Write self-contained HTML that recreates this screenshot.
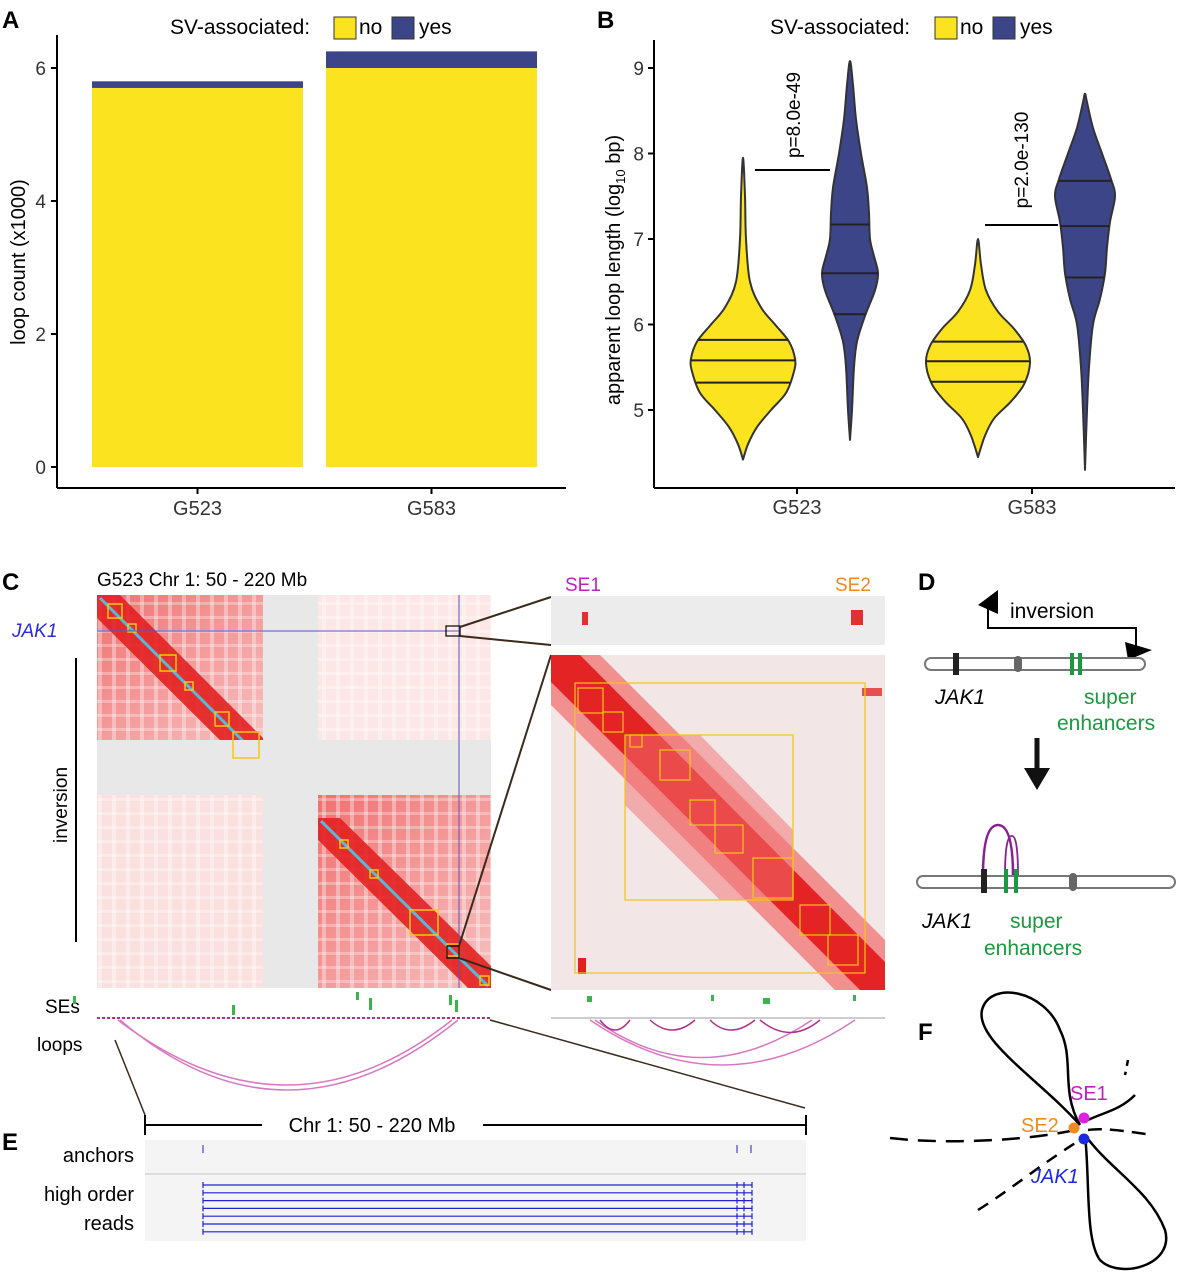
<!DOCTYPE html>
<html><head><meta charset="utf-8"><style>
body{margin:0;background:#fff;}
svg{display:block;font-family:"Liberation Sans",Arial,sans-serif;}
</style></head><body>
<svg id="fig" width="1179" height="1280" viewBox="0 0 1179 1280" xmlns="http://www.w3.org/2000/svg">
<defs>
<pattern id="stripes" width="14" height="14" patternUnits="userSpaceOnUse">
<rect width="14" height="14" fill="none"/><rect x="0" width="4" height="14" fill="#fff" opacity="0.35"/><rect y="0" width="14" height="3" fill="#fff" opacity="0.3"/>
</pattern>
<linearGradient id="tlq" x1="0" y1="0" x2="1" y2="1"><stop offset="0" stop-color="#f17070"/><stop offset="0.5" stop-color="#f49a9a"/><stop offset="1" stop-color="#f7c0c0"/></linearGradient>
</defs>
<!-- Panel labels -->
<g font-weight="bold" font-size="24" fill="#000">
<text x="2" y="28">A</text><text x="597" y="28">B</text><text x="2" y="590">C</text>
<text x="918" y="590">D</text><text x="918" y="1040">F</text><text x="2" y="1150">E</text>
</g>
<!-- Panel A -->
<g id="panelA">
<g font-size="21">
<text x="170" y="34">SV-associated:</text>
<rect x="334" y="17" width="22" height="22" fill="#FBE31F" stroke="#333"/>
<text x="359" y="34">no</text>
<rect x="392" y="17" width="22" height="22" fill="#3D4589" stroke="#333"/>
<text x="419" y="34">yes</text>
</g>
<line x1="57" y1="35" x2="57" y2="488" stroke="#000" stroke-width="2"/>
<line x1="57" y1="488" x2="566" y2="488" stroke="#000" stroke-width="2"/>
<g id="aticks" font-size="19" fill="#333"></g>
<g id="abars"></g>
<text transform="translate(25,262) rotate(-90)" text-anchor="middle" font-size="20">loop count (x1000)</text>
</g>
<!-- Panel B -->
<g id="panelB">
<g font-size="21">
<text x="770" y="34">SV-associated:</text>
<rect x="935" y="17" width="22" height="22" fill="#FBE31F" stroke="#333"/>
<text x="960" y="34">no</text>
<rect x="993" y="17" width="22" height="22" fill="#3D4589" stroke="#333"/>
<text x="1020" y="34">yes</text>
</g>
<line x1="654" y1="40" x2="654" y2="488" stroke="#000" stroke-width="2"/>
<line x1="654" y1="488" x2="1175" y2="488" stroke="#000" stroke-width="2"/>
<g id="bticks" font-size="19" fill="#333"></g>
<g id="violins"></g>
<text transform="translate(620,270) rotate(-90)" text-anchor="middle" font-size="20">apparent loop length (log<tspan font-size="13" dy="5">10</tspan><tspan dy="-5"> bp)</tspan></text>
<g>
<line x1="755" y1="170" x2="830" y2="170" stroke="#000" stroke-width="2"/>
<text transform="translate(800,115) rotate(-90)" text-anchor="middle" font-size="19">p=8.0e-49</text>
</g>
<g>
<line x1="985" y1="225" x2="1058" y2="225" stroke="#000" stroke-width="2"/>
<text transform="translate(1028,160) rotate(-90)" text-anchor="middle" font-size="19">p=2.0e-130</text>
</g>
</g>
<!-- Panel C -->
<g id="panelC">
<text x="97" y="586" font-size="19">G523 Chr 1: 50 - 220 Mb</text>
<text x="12" y="637" font-size="19" font-style="italic" fill="#2a2ae0">JAK1</text>
<text transform="translate(67,805) rotate(-90)" text-anchor="middle" font-size="19">inversion</text>
<line x1="76" y1="658" x2="76" y2="942" stroke="#000" stroke-width="2"/>
<g>
<rect x="97" y="595" width="394" height="393" fill="#fcecec"/>
<rect x="97" y="595" width="166" height="145" fill="url(#tlq)"/>
<rect x="97" y="595" width="166" height="145" fill="url(#stripes)"/>
<rect x="318" y="795" width="173" height="193" fill="url(#tlq)"/>
<rect x="318" y="795" width="173" height="193" fill="url(#stripes)"/>
<rect x="97" y="795" width="166" height="193" fill="#fbe0e0"/>
<rect x="97" y="795" width="166" height="193" fill="url(#stripes)"/>
<rect x="318" y="595" width="173" height="145" fill="#fde6e6"/>
<rect x="318" y="595" width="173" height="145" fill="url(#stripes)"/>
<polygon points="97,595 120,595 263,738 263,760 240,760 97,618" fill="#e32020" opacity="0.9"/>
<polygon points="318,818 340,818 491,966 491,988 468,988 318,840" fill="#e32020" opacity="0.9"/>
<line x1="100" y1="598" x2="260" y2="758" stroke="#58b8d8" stroke-width="3"/>
<line x1="321" y1="821" x2="488" y2="986" stroke="#58b8d8" stroke-width="3"/>
<rect x="263" y="595" width="55" height="393" fill="#e8e8e8"/>
<rect x="97" y="740" width="394" height="55" fill="#e8e8e8"/>
<g fill="none" stroke="#f5c518" stroke-width="1.5">
<rect x="108" y="604" width="14" height="14"/><rect x="128" y="624" width="8" height="8"/><rect x="160" y="655" width="16" height="16"/><rect x="185" y="682" width="8" height="8"/><rect x="215" y="712" width="14" height="14"/>
<rect x="233" y="732" width="26" height="26"/><rect x="340" y="840" width="8" height="8"/><rect x="370" y="870" width="8" height="8"/><rect x="410" y="910" width="28" height="25"/><rect x="447" y="944" width="12" height="12"/><rect x="480" y="976" width="9" height="9"/>
</g>
<line x1="97" y1="631" x2="460" y2="631" stroke="#5555c0" stroke-width="1"/>
<line x1="459" y1="595" x2="459" y2="988" stroke="#5555c0" stroke-width="1"/>
<rect x="446" y="626" width="14" height="10" fill="none" stroke="#000" stroke-width="1.2"/>
<rect x="447" y="946" width="12" height="12" fill="none" stroke="#000" stroke-width="1.2"/>
</g>
<g stroke="#3a2a1a" stroke-width="2">
<line x1="460" y1="627" x2="551" y2="597"/><line x1="460" y1="636" x2="551" y2="645"/>
<line x1="459" y1="946" x2="551" y2="655"/><line x1="459" y1="958" x2="551" y2="990"/>
<line x1="115" y1="1040" x2="145" y2="1115" stroke-width="1.5"/><line x1="490" y1="1020" x2="805" y2="1108" stroke-width="1.5"/>
</g>
<text x="45" y="1013" font-size="19">SEs</text>
<text x="37" y="1051" font-size="19">loops</text>
<g fill="#3cb44b">
<rect x="73" y="996" width="3" height="8"/><rect x="232" y="1005" width="3" height="10"/><rect x="356" y="992" width="3" height="8"/><rect x="369" y="998" width="3" height="12"/><rect x="449" y="995" width="3" height="10"/><rect x="455" y="1000" width="3" height="12"/>
<rect x="587" y="996" width="5" height="6"/><rect x="711" y="995" width="3" height="6"/><rect x="763" y="998" width="7" height="6"/><rect x="853" y="995" width="3" height="6"/>
</g>
<line x1="97" y1="1018" x2="491" y2="1018" stroke="#b03090" stroke-width="2" stroke-dasharray="3,2"/>
<line x1="551" y1="1018" x2="885" y2="1018" stroke="#999" stroke-width="1"/>
<g fill="none" stroke="#d878c0" stroke-width="1.5">
<path d="M120,1020 Q285,1160 458,1020"/><path d="M118,1020 Q288,1150 452,1020"/>
<path d="M590,1020 Q722,1110 855,1020"/><path d="M595,1020 Q700,1095 812,1020"/>
<path d="M600,1020 Q615,1040 630,1020" stroke="#b03090"/><path d="M650,1020 Q672,1040 695,1020" stroke="#b03090"/><path d="M710,1020 Q730,1040 755,1020" stroke="#b03090"/><path d="M760,1020 Q790,1045 820,1020" stroke="#b03090"/>
</g>
<!-- zoom panel -->
<text x="565" y="591" font-size="19" fill="#c020c0">SE1</text>
<text x="835" y="591" font-size="19" fill="#f08a20">SE2</text>
<rect x="551" y="596" width="334" height="49" fill="#ececec"/>
<rect x="582" y="612" width="6" height="13" fill="#e03030"/><rect x="851" y="610" width="12" height="15" fill="#e03030"/>
<g>
<rect x="551" y="655" width="334" height="335" fill="#f3e6e6"/>
<polygon points="551,655 600,655 885,940 885,990 835,990 551,705" fill="#f29090"/>
<polygon points="551,655 580,655 885,962 885,990 860,990 551,682" fill="#e42424"/>
<polygon points="625,735 700,735 793,830 793,900 720,900 625,805" fill="#f07070" opacity="0.5"/>
<rect x="578" y="958" width="8" height="16" fill="#e02020"/><rect x="862" y="688" width="20" height="8" fill="#e85050"/>
<g fill="none" stroke="#f5c518" stroke-width="1.2">
<rect x="575" y="683" width="290" height="290"/><rect x="625" y="735" width="168" height="165"/>
<rect x="578" y="688" width="25" height="25"/><rect x="603" y="712" width="20" height="20"/><rect x="630" y="735" width="12" height="12"/><rect x="660" y="750" width="30" height="30"/><rect x="690" y="800" width="25" height="25"/>
<rect x="715" y="825" width="28" height="28"/><rect x="753" y="858" width="40" height="40"/><rect x="800" y="905" width="30" height="30"/><rect x="828" y="935" width="30" height="30"/>
</g>
</g>
</g>
<!-- Panel E -->
<g id="panelE">
<line x1="145" y1="1125" x2="262" y2="1125" stroke="#000" stroke-width="2"/>
<line x1="483" y1="1125" x2="806" y2="1125" stroke="#000" stroke-width="2"/>
<line x1="145" y1="1115" x2="145" y2="1135" stroke="#000" stroke-width="2"/>
<line x1="806" y1="1115" x2="806" y2="1135" stroke="#000" stroke-width="2"/>
<text x="372" y="1132" text-anchor="middle" font-size="20">Chr 1: 50 - 220  Mb</text>
<rect x="145" y="1140" width="661" height="33" fill="#f4f4f4"/>
<line x1="145" y1="1174" x2="806" y2="1174" stroke="#bbb"/>
<rect x="145" y="1175" width="661" height="66" fill="#f4f4f4"/>
<text x="134" y="1162" text-anchor="end" font-size="20">anchors</text>
<text x="134" y="1201" text-anchor="end" font-size="20">high order</text>
<text x="134" y="1230" text-anchor="end" font-size="20">reads</text>
<g stroke="#2020d0" stroke-width="1">
<line x1="203" y1="1145" x2="203" y2="1153"/><line x1="737" y1="1145" x2="737" y2="1153"/><line x1="751" y1="1145" x2="751" y2="1153"/>
</g>
<g id="reads" stroke="#2020d0" stroke-width="1.2"></g>
</g>
<!-- Panel D -->
<g id="panelD">
<text x="1010" y="618" font-size="21">inversion</text>
<path d="M988,600 L988,628 L1136,628 L1136,650" fill="none" stroke="#000" stroke-width="2"/>
<polygon points="978,605 998,590 998,614" fill="#000"/>
<polygon points="1125,642 1152,650 1128,660" fill="#000"/>
<rect x="925" y="658" width="220" height="12" rx="6" fill="#fff" stroke="#777" stroke-width="2"/>
<rect x="953" y="653" width="6" height="22" fill="#222"/>
<rect x="1014" y="656" width="8" height="16" rx="4" fill="#666"/>
<rect x="1070" y="653" width="4" height="22" fill="#1a9a40"/><rect x="1078" y="653" width="4" height="22" fill="#1a9a40"/>
<text x="935" y="704" font-size="21" font-style="italic">JAK1</text>
<text x="1084" y="704" font-size="21" fill="#1a9a40">super</text>
<text x="1057" y="730" font-size="21" fill="#1a9a40">enhancers</text>
<line x1="1037" y1="738" x2="1037" y2="770" stroke="#111" stroke-width="5"/>
<polygon points="1024,768 1050,768 1037,790" fill="#111"/>
<path d="M983,876 Q983,825 998,825 Q1013,825 1013,876" fill="none" stroke="#8a2090" stroke-width="2.5"/>
<path d="M1005,876 Q1005,835 1012,836 Q1018,836 1018,876" fill="none" stroke="#8a2090" stroke-width="1.8"/>
<rect x="917" y="876" width="258" height="12" rx="6" fill="#fff" stroke="#777" stroke-width="2"/>
<rect x="981" y="869" width="6" height="24" fill="#222"/>
<rect x="1004" y="869" width="4" height="24" fill="#1a9a40"/><rect x="1014" y="869" width="4" height="24" fill="#1a9a40"/>
<rect x="1069" y="873" width="8" height="18" rx="4" fill="#666"/>
<text x="922" y="928" font-size="21" font-style="italic">JAK1</text>
<text x="1010" y="928" font-size="21" fill="#1a9a40">super</text>
<text x="984" y="955" font-size="21" fill="#1a9a40">enhancers</text>
</g>
<!-- Panel F -->
<g id="panelF" fill="none" stroke="#000" stroke-width="2.5">
<path d="M1080,1125 C1060,1090 1075,1060 1060,1030 C1045,990 990,980 982,1010 C975,1040 1040,1080 1080,1125"/>
<path d="M1085,1135 C1110,1170 1150,1190 1165,1230 C1175,1265 1120,1280 1100,1260 C1085,1240 1090,1180 1085,1135"/>
<path d="M1088,1120 C1105,1112 1120,1110 1135,1095" />
<path d="M1088,1130 C1100,1128 1120,1130 1152,1135" stroke-dasharray="14,8"/>
<path d="M890,1138 C950,1145 1030,1140 1075,1130" stroke-dasharray="18,10"/>
<path d="M978,1210 C1010,1190 1040,1165 1080,1140" stroke-dasharray="12,9"/>
<path d="M1128,1060 L1125,1075" stroke-dasharray="6,6"/>
</g>
<g>
<circle cx="1084" cy="1118" r="5.5" fill="#e020e0"/>
<circle cx="1074" cy="1128" r="5.5" fill="#f08a20"/>
<circle cx="1084" cy="1139" r="5.5" fill="#1a2ae0"/>
<text x="1070" y="1100" font-size="20" fill="#c020c0">SE1</text>
<text x="1021" y="1132" font-size="20" fill="#f08a20">SE2</text>
<text x="1031" y="1183" font-size="20" font-style="italic" fill="#1a2ae0">JAK1</text>
</g>
</svg>
<script>
const NS="http://www.w3.org/2000/svg";
// Panel A data
const aCategories=["G523","G583"];
const aNo=[5.7,6.0];
const aYes=[0.1,0.25];
const aTicks=[0,2,4,6];
// Panel B data
const bCategories=["G523","G583"];
const bTicks=[5,6,7,8,9];
const vNoG523Vals=[4.42,4.6,4.8,5.0,5.2,5.45,5.6,5.8,6.0,6.2,6.5,7.0,7.5,7.95];
const vNoG523Wid=[0,5,14,28,43,51,52,46,32,18,7,3,2,0];
const vYesG523Vals=[4.65,5.0,5.5,5.8,6.1,6.4,6.6,6.8,7.0,7.3,7.6,8.0,8.4,8.8,9.08];
const vYesG523Wid=[0,2,4,7,15,25,28,24,20,19,17,11,6,3,0];
const vNoG583Vals=[4.45,4.7,4.9,5.1,5.3,5.55,5.75,5.95,6.15,6.4,6.7,7.0];
const vNoG583Wid=[0,7,16,33,46,52,48,36,20,8,3,0];
const vYesG583Vals=[4.3,5.0,5.5,6.0,6.3,6.6,6.9,7.2,7.5,7.7,8.0,8.3,8.6,8.7];
const vYesG583Wid=[0,2,4,8,15,20,22,25,30,26,17,8,2,0];
const qNoG523=[5.32,5.58,5.82];
const qYesG523=[6.12,6.6,7.17];
const qNoG583=[5.33,5.57,5.8];
const qYesG583=[6.55,7.15,7.68];
const readRows=[0,1,2,3,4,5,6];

function el(t,a,p){const e=document.createElementNS(NS,t);for(const k in a)e.setAttribute(k,a[k]);p.appendChild(e);return e;}
const ay=v=>467-v*66.5;
const aBand=i=>92+i*234;
const aBw=211;
const at=document.getElementById('aticks');
aTicks.forEach(t=>{const l=el('line',{x1:51,x2:57,y1:ay(t),y2:ay(t),stroke:'#000','stroke-width':2},at);


const tx=el('text',{x:46,y:ay(t)+7,'text-anchor':'end'},at);tx.textContent=t;

});
const ab=document.getElementById('abars');
aCategories.forEach((c,i)=>{
 const x=aBand(i);
 const r1=el('rect',{x:x,y:ay(aNo[i]),width:aBw,height:ay(0)-ay(aNo[i]),fill:'#FBE31F'},ab);
 
 
 const r2=el('rect',{x:x,y:ay(aNo[i]+aYes[i]),width:aBw,height:ay(aNo[i])-ay(aNo[i]+aYes[i]),fill:'#3D4589'},ab);
 
 
 el('line',{x1:x+aBw/2,x2:x+aBw/2,y1:488,y2:494,stroke:'#000','stroke-width':2},ab);
 const t=el('text',{x:x+aBw/2,y:515,'text-anchor':'middle','font-size':20,fill:'#333'},ab);t.textContent=c;
 
 
});
const by=v=>410-(v-5)*85.5;
const bx=i=>797+i*235;
const bt=document.getElementById('bticks');
bTicks.forEach(t=>{el('line',{x1:648,x2:654,y1:by(t),y2:by(t),stroke:'#000','stroke-width':2},bt);
const tx=el('text',{x:644,y:by(t)+7,'text-anchor':'end'},bt);tx.textContent=t;

});
bCategories.forEach((c,i)=>{el('line',{x1:bx(i),x2:bx(i),y1:488,y2:494,stroke:'#000','stroke-width':2},bt);
const t=el('text',{x:bx(i),y:514,'text-anchor':'middle','font-size':20},bt);t.textContent=c;

});
const vg=document.getElementById('violins');
function interp(vals,wid,v){for(let k=0;k<vals.length-1;k++){if(v>=vals[k]&&v<=vals[k+1]){const f=(v-vals[k])/(vals[k+1]-vals[k]);return wid[k]+f*(wid[k+1]-wid[k]);}}return 0;}
function smooth(pts){ // catmull-rom to bezier
 let d='M'+pts[0][0]+','+pts[0][1];
 for(let i=0;i<pts.length-1;i++){
  const p0=pts[Math.max(0,i-1)],p1=pts[i],p2=pts[i+1],p3=pts[Math.min(pts.length-1,i+2)];
  const c1=[p1[0]+(p2[0]-p0[0])/6,p1[1]+(p2[1]-p0[1])/6];
  const c2=[p2[0]-(p3[0]-p1[0])/6,p2[1]-(p3[1]-p1[1])/6];
  d+=' C'+c1[0]+','+c1[1]+' '+c2[0]+','+c2[1]+' '+p2[0]+','+p2[1];
 }
 return d;
}
function violin(cx,vals,wid,qs,fill,name){
 const R=vals.map((v,k)=>[cx+wid[k],by(v)]);
 const L=vals.map((v,k)=>[cx-wid[k],by(v)]).reverse();
 const pts=R.concat(L.slice(1));
 const p=el('path',{d:smooth(pts)+' Z',fill:fill,stroke:'#333','stroke-width':2,'stroke-linejoin':'round'},vg);
 
 
 qs.forEach(q=>{const w=interp(vals,wid,q);el('line',{x1:cx-w,x2:cx+w,y1:by(q),y2:by(q),stroke:'#222','stroke-width':2},vg);});
}
violin(bx(0)-54,vNoG523Vals,vNoG523Wid,qNoG523,'#FBE31F','violin-no-g523');
violin(bx(0)+53,vYesG523Vals,vYesG523Wid,qYesG523,'#3D4589','violin-yes-g523');
violin(bx(1)-54,vNoG583Vals,vNoG583Wid,qNoG583,'#FBE31F','violin-no-g583');
violin(bx(1)+53,vYesG583Vals,vYesG583Wid,qYesG583,'#3D4589','violin-yes-g583');
const rg=document.getElementById('reads');
readRows.forEach(r=>{const y=1185+r*7.8;
 const l=el('line',{x1:203,x2:752,y1:y,y2:y},rg);
 
 
 [203,737,744,752].forEach(x=>el('line',{x1:x,x2:x,y1:y-3,y2:y+3},rg));});
</script>
</body></html>
